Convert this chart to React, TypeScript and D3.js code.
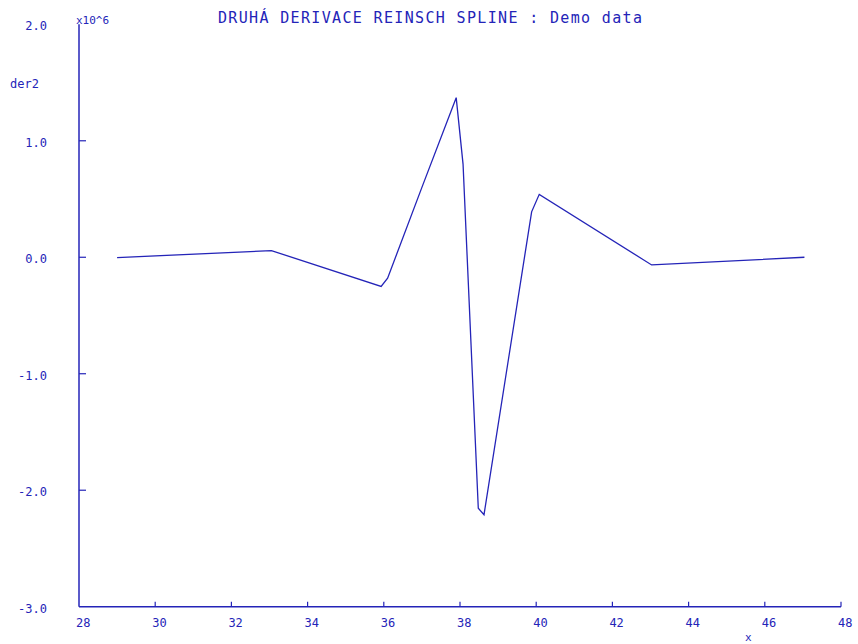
import * as d3 from 'd3';

const WIDTH = 858;
const HEIGHT = 644;
const BLUE = '#2424b8';
const FONT = '"DejaVu Sans Mono", "Liberation Mono", monospace';

// knots of the second derivative (x, der2 in units of 10^6)
const xs = [29.0, 33.05, 35.93, 36.1, 37.0, 37.9, 38.08, 38.48, 38.63, 39.88, 40.08, 43.03, 47.04];
const der2 = [-0.003, 0.057, -0.25, -0.18, 0.6, 1.37, 0.8, -2.155, -2.21, 0.39, 0.54, -0.066, 0.0];

const xTicks = [28, 30, 32, 34, 36, 38, 40, 42, 44, 46, 48];
const yTicks = [2, 1, 0, -1, -2, -3];

const TITLE = 'DRUHÁ DERIVACE REINSCH SPLINE : Demo data';

const App = () => {
    const xScale = d3.scaleLinear().domain([28, 48]).range([79, 841]);
    const yScale = d3.scaleLinear().domain([-3, 2]).range([606.7, 24.3]);

    const points = xs.map((x, i) => ({ x, y: der2[i] }));
    const linePath = d3
        .line<{ x: number; y: number }>()
        .x((d) => xScale(d.x))
        .y((d) => yScale(d.y))(points);

    const x0 = xScale(28);
    const y0 = yScale(-3);

    return (
        <svg
            width={WIDTH}
            height={HEIGHT}
            style={{ position: 'absolute', left: 0, top: 0, background: '#fff' }}
            fontFamily={FONT}
        >
            <text x={218} y={23} fontSize={15} fill={BLUE} textLength={424} lengthAdjust="spacing">
                {TITLE}
            </text>
            <text x={76} y={24} fontSize={11} fill={BLUE}>x10^6</text>
            <text x={10} y={88} fontSize={12} fill={BLUE}>der2</text>
            <text x={745} y={641} fontSize={11} fill={BLUE}>x</text>

            {/* axes */}
            <line x1={x0} x2={x0} y1={yScale(2)} y2={y0} stroke={BLUE} strokeWidth={1.5} />
            <line x1={x0} x2={xScale(48)} y1={y0} y2={y0} stroke={BLUE} strokeWidth={1.5} />

            {yTicks.map((t) => (
                <g key={'y' + t}>
                    {t > -3 && t < 2 && (
                        <line x1={x0} x2={x0 + 7} y1={yScale(t)} y2={yScale(t)} stroke={BLUE} strokeWidth={1.2} />
                    )}
                    <text
                        x={47}
                        y={yScale(t) + 6}
                        fontSize={12}
                        fill={BLUE}
                        textAnchor="end"
                    >
                        {t.toFixed(1)}
                    </text>
                </g>
            ))}

            {xTicks.map((t) => (
                <g key={'x' + t}>
                    {t > 28 && (
                        <line x1={xScale(t)} x2={xScale(t)} y1={y0} y2={y0 - 5} stroke={BLUE} strokeWidth={1.2} />
                    )}
                    <text x={xScale(t) - 3} y={627} fontSize={12} fill={BLUE}>
                        {t}
                    </text>
                </g>
            ))}

            <path d={linePath || ''} fill="none" stroke={BLUE} strokeWidth={1.3} />
        </svg>
    );
};

export default App;
